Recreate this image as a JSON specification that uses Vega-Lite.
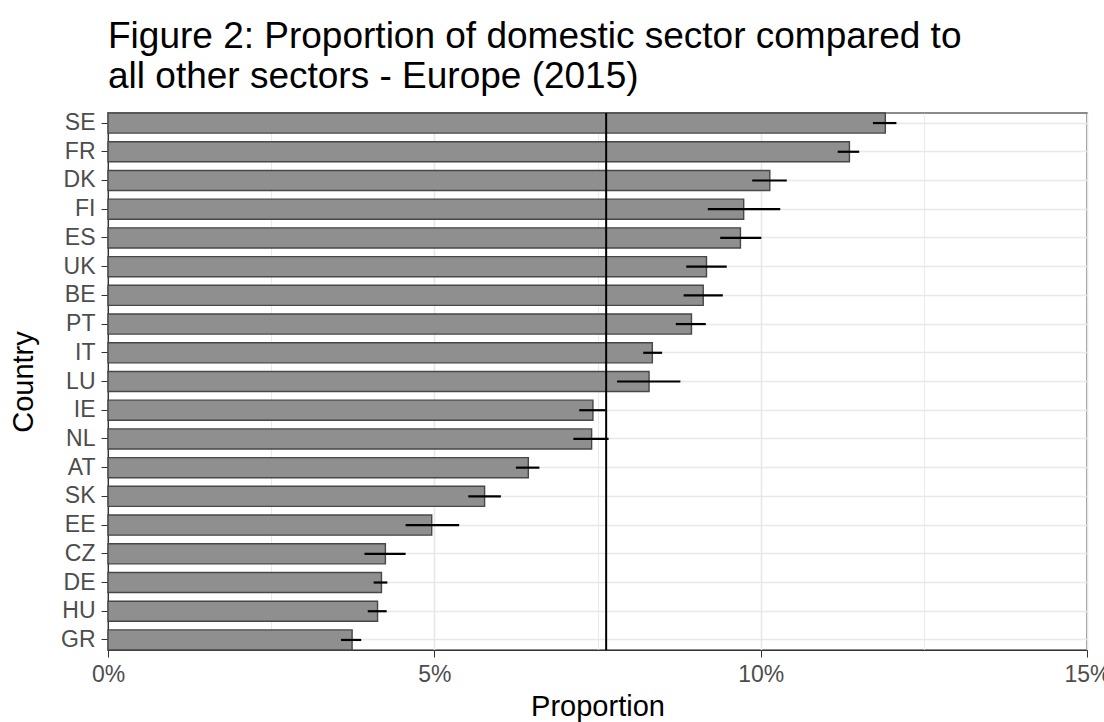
{
  "$schema": "https://vega.github.io/schema/vega-lite/v6.json",
  "width": 979,
  "height": 537,
  "autosize": "none",
  "padding": {"left": 108, "top": 113, "right": 17, "bottom": 72},
  "background": "white",
  "title": {
    "text": ["Figure 2: Proportion of domestic sector compared to", "all other sectors - Europe (2015)"],
    "anchor": "start",
    "frame": "group",
    "font": "Liberation Sans",
    "fontSize": 37,
    "fontWeight": "normal",
    "color": "#000000",
    "lineHeight": 40,
    "offset": 16
  },
  "config": {
    "view": {"stroke": "#666666", "strokeWidth": 1.5},
    "axis": {
      "labelFont": "Liberation Sans",
      "titleFont": "Liberation Sans",
      "labelFontSize": 23,
      "titleFontSize": 29,
      "titleFontWeight": "normal",
      "labelColor": "#4d4d4d",
      "titleColor": "#000000",
      "domainColor": "#333333",
      "tickColor": "#333333",
      "tickSize": 7,
      "labelPadding": 6,
      "labelFlush": false,
      "gridColor": "#e8e8e8"
    }
  },
  "data": {
    "values": [
      {"country": "SE", "value": 0.1191, "lo": 0.1172, "hi": 0.1208},
      {"country": "FR", "value": 0.1136, "lo": 0.1118, "hi": 0.1151},
      {"country": "DK", "value": 0.1014, "lo": 0.0987, "hi": 0.1040},
      {"country": "FI", "value": 0.0974, "lo": 0.0919, "hi": 0.1030},
      {"country": "ES", "value": 0.0969, "lo": 0.0938, "hi": 0.1001},
      {"country": "UK", "value": 0.0917, "lo": 0.0886, "hi": 0.0948},
      {"country": "BE", "value": 0.0912, "lo": 0.0882, "hi": 0.0942},
      {"country": "PT", "value": 0.0894, "lo": 0.0870, "hi": 0.0916},
      {"country": "IT", "value": 0.0834, "lo": 0.0820, "hi": 0.0849},
      {"country": "LU", "value": 0.0829, "lo": 0.0780, "hi": 0.0877},
      {"country": "IE", "value": 0.0743, "lo": 0.0722, "hi": 0.0762},
      {"country": "NL", "value": 0.0741, "lo": 0.0713, "hi": 0.0767},
      {"country": "AT", "value": 0.0644, "lo": 0.0625, "hi": 0.0661},
      {"country": "SK", "value": 0.0577, "lo": 0.0552, "hi": 0.0602},
      {"country": "EE", "value": 0.0496, "lo": 0.0456, "hi": 0.0538},
      {"country": "CZ", "value": 0.0425, "lo": 0.0393, "hi": 0.0456},
      {"country": "DE", "value": 0.0419, "lo": 0.0407, "hi": 0.0428},
      {"country": "HU", "value": 0.0413, "lo": 0.0398, "hi": 0.0427},
      {"country": "GR", "value": 0.0374, "lo": 0.0357, "hi": 0.0388}
    ]
  },
  "layer": [
    {
      "mark": {"type": "bar", "fill": "#8f8f8f", "stroke": "#474747", "strokeWidth": 1.4},
      "encoding": {
        "y": {
          "field": "country",
          "type": "nominal",
          "sort": {"field": "value", "op": "max", "order": "descending"},
          "scale": {"paddingInner": 0.3, "paddingOuter": 0},
          "axis": {"title": "Country", "grid": true, "gridWidth": 1.6, "bandPosition": 0.5, "titlePadding": 22}
        },
        "x": {
          "field": "value",
          "type": "quantitative",
          "scale": {"domain": [0, 0.15], "nice": false, "zero": true},
          "axis": {
            "title": "Proportion",
            "values": [0, 0.025, 0.05, 0.075, 0.1, 0.125, 0.15],
            "format": ".0%",
            "labelExpr": "round(datum.value * 1000) % 50 == 0 ? datum.label : ''",
            "tickOpacity": {"condition": {"test": "round(datum.value * 1000) % 50 != 0", "value": 0}, "value": 1},
            "gridWidth": {"condition": {"test": "round(datum.value * 1000) % 50 != 0", "value": 0.9}, "value": 1.6},
            "titlePadding": 6
          }
        }
      }
    },
    {
      "transform": [{"aggregate": [{"op": "mean", "field": "value", "as": "avg"}]}],
      "mark": {"type": "rule", "color": "#000000", "strokeWidth": 2},
      "encoding": {"x": {"field": "avg", "type": "quantitative"}}
    },
    {
      "mark": {"type": "rule", "color": "#000000", "strokeWidth": 2.2},
      "encoding": {
        "y": {"field": "country", "type": "nominal", "sort": {"field": "value", "op": "max", "order": "descending"}},
        "x": {"field": "lo", "type": "quantitative"},
        "x2": {"field": "hi"}
      }
    }
  ]
}
